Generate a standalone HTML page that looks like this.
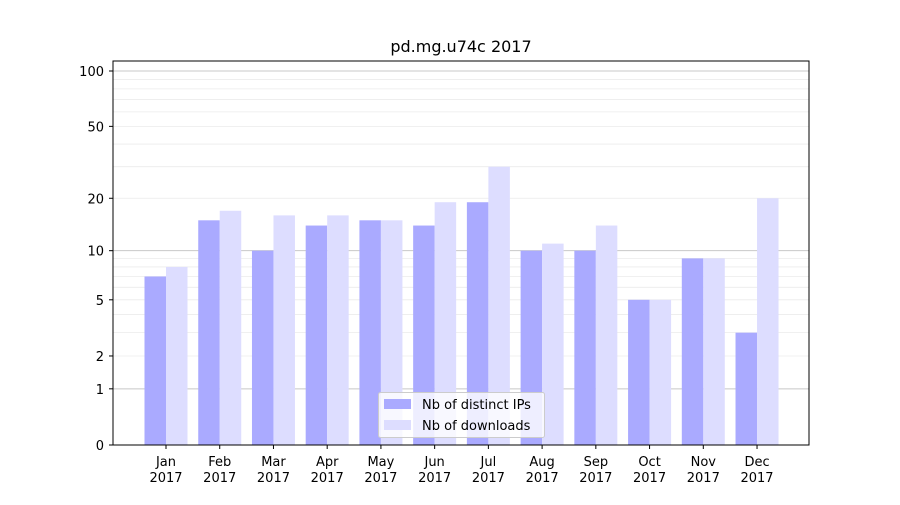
<!DOCTYPE html>
<html><head><meta charset="utf-8"><style>
body{margin:0;background:#fff;}
svg text{font-family:"DejaVu Sans","Liberation Sans",sans-serif;fill:#000;}
</style></head><body>
<svg id="chart" width="900" height="500" xmlns="http://www.w3.org/2000/svg">
<rect width="900" height="500" fill="#fff"/>
<text x="461" y="52" font-size="16" text-anchor="middle">pd.mg.u74c 2017</text>
<g id="grid"></g>
<g id="bars"></g>
<rect x="113" y="61" width="696" height="384" fill="none" stroke="#000" stroke-width="1"/>
<g id="axes"></g>
<g>
<rect x="378.5" y="392.5" width="166" height="45" rx="2" fill="#fff" fill-opacity="0.8" stroke="#ccc"/>
<rect x="384" y="399" width="27" height="10" fill="#aaaaff"/>
<text x="422" y="409" font-size="13">Nb of distinct IPs</text>
<rect x="384" y="420" width="27" height="10" fill="#ddddff"/>
<text x="422" y="430" font-size="13">Nb of downloads</text>
</g>
</svg>
<script>
const months=["Jan","Feb","Mar","Apr","May","Jun","Jul","Aug","Sep","Oct","Nov","Dec"];
const ips=[7,15,10,14,15,14,19,10,10,5,9,3];
const downloads=[8,17,16,16,15,19,30,11,14,5,9,20];
const yTicks=[0,1,2,5,10,20,50,100];
const minorTicks=[3,4,6,7,8,9,30,40,60,70,80,90];
const NS="http://www.w3.org/2000/svg";
const y=v=>445-186.6*Math.log10(1+v);
const x=i=>166+53.73*i;
function mk(tag,attrs,parent){const e=document.createElementNS(NS,tag);for(const k in attrs)e.setAttribute(k,attrs[k]);parent.appendChild(e);return e;}
const grid=document.getElementById('grid'),bars=document.getElementById('bars'),axes=document.getElementById('axes');
minorTicks.forEach(v=>{const l=mk('line',{x1:113,x2:809,y1:y(v),y2:y(v),stroke:'#ebebeb','stroke-width':0.8},grid);

});
yTicks.forEach(v=>{const major=(v===1||v===10||v===100);
const l=mk('line',{x1:113,x2:809,y1:y(v),y2:y(v),stroke:major?'#c8c8c8':'#ebebeb','stroke-width':major?1:0.8},grid);


const t=mk('line',{x1:109,x2:113,y1:y(v),y2:y(v),stroke:'#000'},axes);


const tx=mk('text',{x:104,y:y(v)+5,'font-size':13,'text-anchor':'end'},axes);tx.textContent=v;

});
months.forEach((m,i)=>{const bw=21.5;
const b1=mk('rect',{x:x(i)-bw,y:y(ips[i]),width:bw,height:445-y(ips[i]),fill:'#aaaaff'},bars);


const b2=mk('rect',{x:x(i),y:y(downloads[i]),width:bw,height:445-y(downloads[i]),fill:'#ddddff'},bars);


const t=mk('line',{x1:x(i),x2:x(i),y1:445,y2:449,stroke:'#000'},axes);


const a=mk('text',{x:x(i),y:466,'font-size':13,'text-anchor':'middle'},axes);a.textContent=m;


const b=mk('text',{x:x(i),y:482,'font-size':13,'text-anchor':'middle'},axes);b.textContent='2017';

});
</script>
</body></html>
